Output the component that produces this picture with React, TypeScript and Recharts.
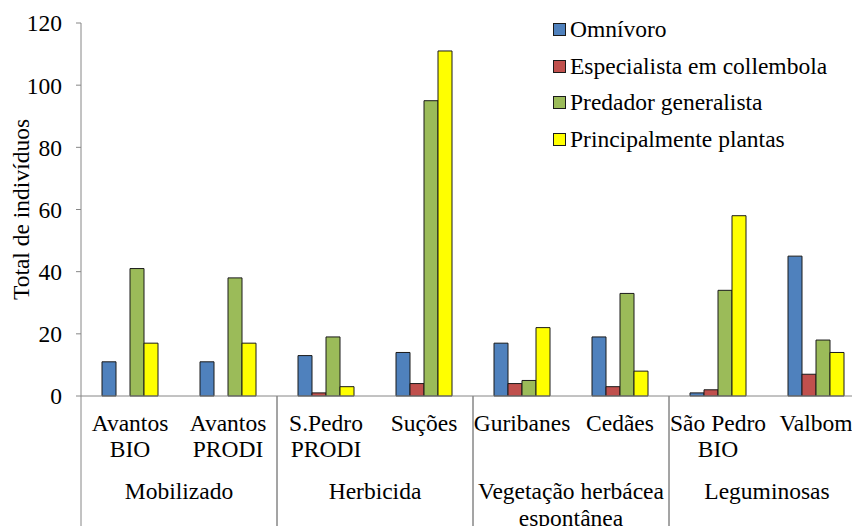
import { Bar, BarChart, Legend, XAxis, YAxis } from 'recharts';

const categories = [
  'Avantos\nBIO',
  'Avantos\nPRODI',
  'S.Pedro\nPRODI',
  'Suções',
  'Guribanes',
  'Cedães',
  'São Pedro\nBIO',
  'Valbom',
];
const groups = ['Mobilizado', 'Herbicida', 'Vegetação herbácea\nespontânea', 'Leguminosas'];
const groupOf = [0, 0, 1, 1, 2, 2, 3, 3];

const omnivoro = [11, 11, 13, 14, 17, 19, 1, 45];
const especialista = [0, 0, 1, 4, 4, 3, 2, 7];
const predador = [41, 38, 19, 95, 5, 33, 34, 18];
const plantas = [17, 17, 3, 111, 22, 8, 58, 14];

const yTicks = [0, 20, 40, 60, 80, 100, 120];

const series = [
  { key: 'omnivoro', name: 'Omnívoro', color: '#4F81BD' },
  { key: 'especialista', name: 'Especialista em collembola', color: '#C0504D' },
  { key: 'predador', name: 'Predador generalista', color: '#9BBB59' },
  { key: 'plantas', name: 'Principalmente plantas', color: '#FFFF00' },
];

const data = categories.map((c, i) => ({
  category: c,
  omnivoro: omnivoro[i],
  especialista: especialista[i],
  predador: predador[i],
  plantas: plantas[i],
}));

const FONT = '"Liberation Serif", "Times New Roman", serif';
const FS = 23.5;
const AXIS_GRAY = '#868686';
const HALF_BAND = 49;

const CategoryTick = ({ x, y, payload }: { x: number; y: number; payload: { value: string; index: number } }) => {
  const i = payload.index;
  const lines = categories[i].split('\n');
  const first = i === 0 || groupOf[i - 1] !== groupOf[i];
  const last = i === categories.length - 1 || groupOf[i + 1] !== groupOf[i];
  return (
    <g>
      {lines.map((line, k) => (
        <text key={k} x={x} y={y + 35 + k * 26} textAnchor="middle" style={{ fontSize: FS, fontFamily: FONT }} fill="#000">
          {line}
        </text>
      ))}
      {first && (
        <>
          <line x1={x - HALF_BAND} x2={x - HALF_BAND} y1={y} y2={y + 160} stroke={AXIS_GRAY} strokeWidth={1} />
          {groups[groupOf[i]].split('\n').map((line, k) => (
            <text
              key={'g' + k}
              x={x + HALF_BAND}
              y={y + 103 + k * 27}
              textAnchor="middle"
              style={{ fontSize: FS, fontFamily: FONT }}
              fill="#000"
            >
              {line}
            </text>
          ))}
        </>
      )}
      {last && (
        <line x1={x + HALF_BAND} x2={x + HALF_BAND} y1={y} y2={y + 160} stroke={AXIS_GRAY} strokeWidth={1} />
      )}
    </g>
  );
};

const YTitle = ({ viewBox }: { viewBox?: { x: number; y: number; width: number; height: number } }) => {
  if (!viewBox) return null;
  const cx = viewBox.x + 21;
  const cy = viewBox.y + viewBox.height / 2;
  return (
    <text
      x={cx}
      y={cy}
      transform={`rotate(-90 ${cx} ${cy})`}
      textAnchor="middle"
      dominantBaseline="central"
      style={{ fontSize: FS, fontFamily: FONT }}
      fill="#000"
    >
      Total de indivíduos
    </text>
  );
};

const LegendBox = () => (
  <div style={{ fontFamily: FONT, fontSize: FS, lineHeight: '36.7px', color: '#000' }}>
    {series.map((s) => (
      <div key={s.key} style={{ display: 'flex', alignItems: 'center', whiteSpace: 'nowrap' }}>
        <span
          style={{
            display: 'inline-block',
            width: 11,
            height: 11,
            background: s.color,
            border: '1px solid #1a1a1a',
            marginRight: 4,
          }}
        />
        <span>{s.name}</span>
      </div>
    ))}
  </div>
);

export default function App() {
  return (
    <div
      style={{
        position: 'absolute',
        left: 0,
        top: 0,
        width: 852,
        height: 526,
        overflow: 'hidden',
        background: '#fff',
        fontFamily: FONT,
      }}
    >
      <BarChart
        width={880}
        height={560}
        data={data}
        margin={{ top: 23, right: 15, left: 0, bottom: 0 }}
        barCategoryGap={21}
        barGap={0}
      >
        <XAxis
          dataKey="category"
          height={164}
          interval={0}
          tickLine={false}
          tickSize={0}
          tickMargin={0}
          axisLine={{ stroke: AXIS_GRAY }}
          tick={CategoryTick}
        />
        <YAxis
          width={81}
          domain={[0, 120]}
          ticks={yTicks}
          interval={0}
          tickSize={5}
          tickMargin={14}
          axisLine={{ stroke: AXIS_GRAY }}
          tickLine={{ stroke: AXIS_GRAY }}
          tick={{ fill: '#000', fontSize: FS, fontFamily: FONT }}
          label={<YTitle />}
        />
        <Legend
          layout="vertical"
          align="center"
          verticalAlign="middle"
          content={<LegendBox />}
          wrapperStyle={{ top: 11, left: 553, width: 'auto' }}
        />
        {series.map((s) => (
          <Bar
            key={s.key}
            dataKey={s.key}
            name={s.name}
            fill={s.color}
            stroke="#1a1a1a"
            strokeWidth={1}
            isAnimationActive={false}
          />
        ))}
      </BarChart>
    </div>
  );
}
